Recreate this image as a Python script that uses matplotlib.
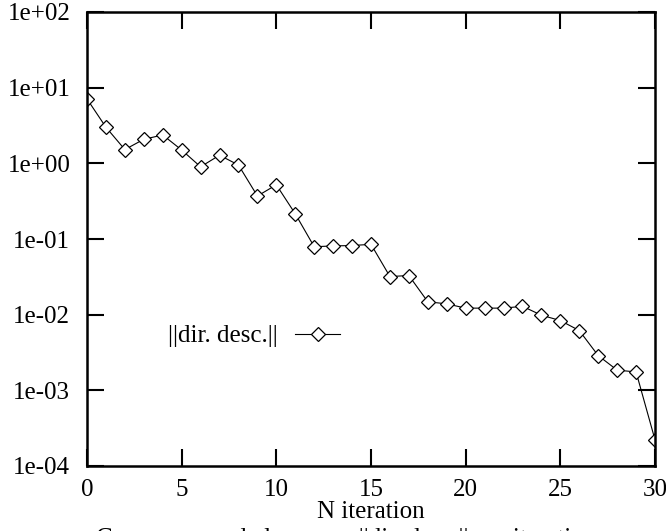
import matplotlib
matplotlib.use("Agg")
import matplotlib.pyplot as plt

# norm of the descent direction per iteration
iterations = list(range(31))
dir_norm = [7.1, 3.0, 1.52, 2.08, 2.37, 1.5, 0.90, 1.28, 0.95, 0.37,
            0.52, 0.215, 0.079, 0.081, 0.082, 0.085, 0.0319, 0.0329, 0.0148, 0.0139,
            0.0122, 0.0122, 0.0122, 0.0129, 0.00984, 0.00836, 0.00617, 0.00288, 0.00185, 0.00175,
            0.000222]
xticks = [0, 5, 10, 15, 20, 25, 30]
yticks = [1e-4, 1e-3, 1e-2, 1e-1, 1e0, 1e1, 1e2]
ytick_labels = ["1e-04", "1e-03", "1e-02", "1e-01", "1e+00", "1e+01", "1e+02"]

plt.rcParams['font.family'] = ['Liberation Serif', 'DejaVu Serif']

fig = plt.figure(figsize=(6.66, 5.31), dpi=100)
ax = fig.add_axes([87 / 666, 1 - 466 / 531, 568 / 666, 454 / 531])

ax.plot(iterations, dir_norm, color='black', linewidth=0.8,
        marker='D', markersize=7.5, markerfacecolor='white',
        markeredgecolor='black', markeredgewidth=0.9,
        label='||dir. desc.||')

ax.set_yscale('log')
ax.set_xlim(0, 30)
ax.set_ylim(1e-4, 1e2)
ax.set_xticks(xticks)
ax.set_yticks(yticks)
ax.set_yticklabels(ytick_labels)
ax.minorticks_off()
ax.tick_params(which='major', direction='in', length=12, width=1.5,
               top=True, right=True, labelsize=18, pad=12)
ax.tick_params(axis='x', pad=9)
for s in ax.spines.values():
    s.set_linewidth(1.8)

ax.set_xlabel('N iteration', fontsize=18, labelpad=0)

ax.legend(loc='center left', bbox_to_anchor=(0.1426, 0.286), frameon=False,
          markerfirst=False, fontsize=18, handlelength=1.8, handletextpad=0.7,
          borderpad=0, borderaxespad=0)

# caption that is cut off by the bottom edge, as in the original
fig.text(0.52, 1 - 545 / 531, 'Convergence de la norme ||dir. desc.|| par iteration',
         ha='center', va='baseline', fontsize=18)

fig.savefig('out.png', dpi=100)
